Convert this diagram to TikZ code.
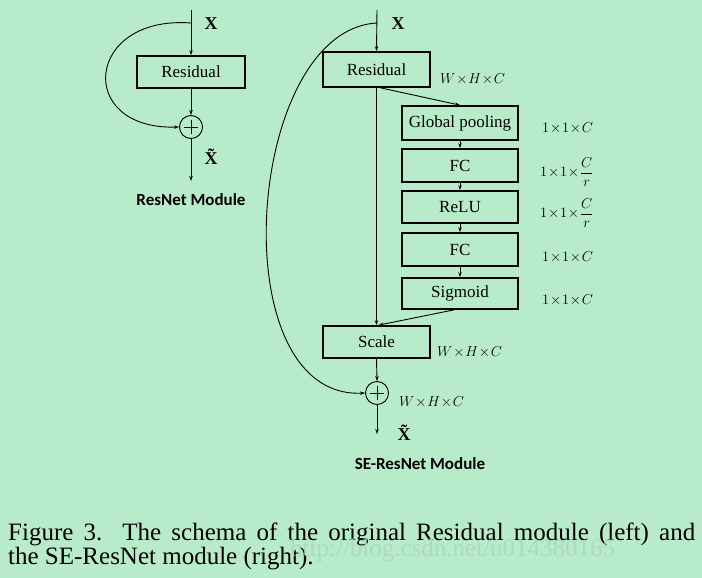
\documentclass[tikz,border=0pt]{standalone}
\usepackage{amsmath}
\usepackage{fontspec}
\setmainfont{Liberation Serif}
\newfontfamily\calfont{Carlito}
\usetikzlibrary{arrows.meta}
\definecolor{bgc}{RGB}{184,235,201}
\begin{document}
\begin{tikzpicture}[x=1pt,y=-1pt,
  blk/.style={draw,line width=1.7pt,minimum height=0pt,inner sep=0pt,font=\fontsize{17}{19}\selectfont},
  arr/.style={-{Stealth[length=5pt,width=3.5pt]},line width=0.9pt},
  dim/.style={font=\fontsize{14}{16}\selectfont,anchor=west,inner sep=0pt},
  xl/.style={font=\fontsize{18}{20}\selectfont\bfseries,inner sep=0pt},
  modl/.style={font=\fontsize{17}{19}\selectfont\calfont\bfseries,inner sep=0pt},
  sum/.style={circle,draw,line width=0.9pt,minimum size=23pt,inner sep=0pt}]
\fill[bgc] (0,0) rectangle (702,578);
\useasboundingbox (0,0) rectangle (702,578);
% ---------- left ResNet module ----------
\coordinate (ltop) at (191,10);
\coordinate (lsplit) at (191,23);
\node[blk,minimum width=108pt,minimum height=32pt] (lres) at (191,72) {Residual};
\node[sum] (lsum) at (191,127) {};
\draw[line width=0.8pt] (lsum.center) ++(0,-7) -- ++(0,14) ++(-7,-7) -- ++(14,0);
\coordinate (lend) at (191,181);
\draw[arr] (ltop) -- (lres.north);
\draw[arr] (lres.south) -- (lsum.north);
\draw[arr] (lsum.south) -- (lend);
\draw[arr] (lsplit) .. controls (85,15) and (75,130) .. (lsum.west);
\node[xl] (lx) at (211,24) {X};
\node[xl] (lxt) at (211,157) {\~{X}};
\node[modl] (lmod) at (191,200) {ResNet Module};
% ---------- right SE-ResNet module ----------
\coordinate (rtop) at (377,10);
\coordinate (rsplit) at (377,23);
\node[blk,minimum width=107pt,minimum height=35pt] (rres) at (376.5,69.5) {Residual};
\node[blk,minimum width=116pt,minimum height=34pt] (gp) at (460,123) {Global pooling};
\node[blk,minimum width=116pt,minimum height=33pt] (fc1) at (460,165.5) {FC};
\node[blk,minimum width=116pt,minimum height=32pt] (relu) at (460,207) {ReLU};
\node[blk,minimum width=116pt,minimum height=33pt] (fc2) at (460,249.5) {FC};
\node[blk,minimum width=116pt,minimum height=31pt] (sig) at (460,293.5) {Sigmoid};
\node[blk,minimum width=107pt,minimum height=32pt] (scale) at (376.5,342) {Scale};
\node[sum] (rsum) at (377,393) {};
\draw[line width=0.8pt] (rsum.center) ++(0,-7) -- ++(0,14) ++(-7,-7) -- ++(14,0);
\coordinate (rend) at (377,434);
\draw[arr] (rtop) -- (rres.north);
\draw[arr] (rres.south) ++(4,0) -- (gp.north);
\draw[arr] (gp) -- (fc1);
\draw[arr] (fc1) -- (relu);
\draw[arr] (relu) -- (fc2);
\draw[arr] (fc2) -- (sig);
\draw[arr] (sig.south) ++(-6,0) -- ([xshift=2pt]scale.north);
\draw[arr] (rres.south) -- (scale.north);
\draw[arr] (scale.south) -- (rsum.north);
\draw[arr] (rsum.south) -- (rend);
\draw[arr] (rsplit) .. controls (245,30) and (220,400) .. (rsum.west);
\node[xl] (rx) at (398,24) {X};
\node[xl] (rxt) at (404,433) {\~{X}};
\node[modl] (rmod) at (420,464) {SE-ResNet Module};
% dimension labels
\node[dim] (d1) at (440,79) {$W\!\times\! H\!\times\! C$};
\node[dim] (d2) at (542,128) {$1\!\times\!1\!\times\! C$};
\node[dim] (d3) at (540,172) {$1\!\times\!1\!\times\!\dfrac{C}{r}$};
\node[dim] (d4) at (540,213) {$1\!\times\!1\!\times\!\dfrac{C}{r}$};
\node[dim] (d5) at (542,257) {$1\!\times\!1\!\times\! C$};
\node[dim] (d6) at (542,300) {$1\!\times\!1\!\times\! C$};
\node[dim] (d7) at (437,352) {$W\!\times\! H\!\times\! C$};
\node[dim] (d8) at (399,402) {$W\!\times\! H\!\times\! C$};
% caption
\node[anchor=base west,inner sep=0pt,font=\fontsize{25}{25}\selectfont] (cap1) at (8,540)
  {\makebox[687pt][s]{Figure 3. The schema of the original Residual module (left) and}};
\node[anchor=base west,inner sep=0pt,font=\fontsize{25}{25}\selectfont] (cap2) at (8,564)
  {the SE-ResNet module (right).};
\node[anchor=base west,inner sep=0pt,font=\fontsize{25}{25}\selectfont,text=black!7!bgc] (wm) at (290,556) {http://blog.csdn.net/u014380165};
\end{tikzpicture}
\end{document}
